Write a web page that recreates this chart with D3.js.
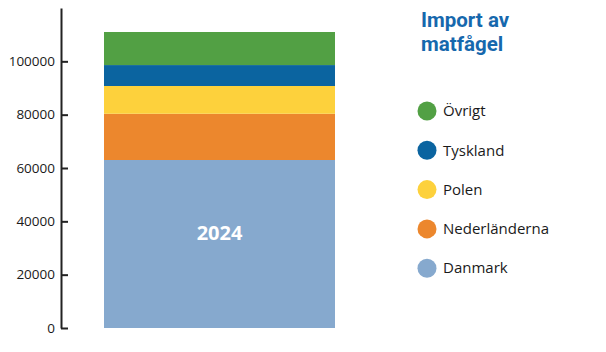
<!DOCTYPE html>
<html><head><meta charset="utf-8">
<script src="https://cdn.jsdelivr.net/npm/d3@7"></script>
<style>body{margin:0;background:#fff;}svg{display:block;font-family:"Open Sans",sans-serif;}</style>
</head><body>
<script>
const year = "2024";
const categories = ["Danmark", "Nederländerna", "Polen", "Tyskland", "Övrigt"];
const values = [63000, 17350, 10400, 7850, 12400];
const colors = ["#86a9ce", "#ec872d", "#fdd13c", "#0b64a0", "#52a044"];
const tickValues = [0, 20000, 40000, 60000, 80000, 100000];
const title = ["Import av", "matfågel"];

const W = 606, H = 352;
const svg = d3.select("body").append("svg").attr("width", W).attr("height", H);

const y = d3.scaleLinear().domain([0, 120000]).range([328, 8]);
const x = d3.scaleBand().domain([year]).range([104, 335]).padding(0);

const stackData = [Object.fromEntries([["year", year], ...categories.map((c, i) => [c, values[i]])])];
const series = d3.stack().keys(categories)(stackData);

svg.append("g").selectAll("rect").data(series).join("rect")
  .attr("x", x(year)).attr("width", x.bandwidth())
  .attr("y", d => y(d[0][1])).attr("height", d => y(d[0][0]) - y(d[0][1]))
  .attr("fill", (d, i) => colors[i]);

// axis
const axis = d3.axisLeft(y).tickValues(tickValues).tickFormat(d3.format("d")).tickSizeInner(-7).tickSizeOuter(0).tickPadding(6);
const ag = svg.append("g").attr("transform", "translate(61,0)").call(axis);
ag.select(".domain").attr("stroke", "#222").attr("stroke-width", 2);
ag.selectAll(".tick line").attr("stroke", "#222").attr("stroke-width", 2);
ag.selectAll(".tick text").attr("x", -6).attr("fill", "#1a1a1a").style("font-size", "13.5px").style("font-family", "'Open Sans',sans-serif");

// year label inside bar
const dan = series[0][0];
svg.append("text").attr("x", x(year) + x.bandwidth() / 2).attr("y", (y(dan[0]) + y(dan[1])) / 2 - 12)
  .attr("text-anchor", "middle").attr("dominant-baseline", "central")
  .attr("fill", "#fff").style("font-size", "20px").style("font-weight", "bold").text(year);

// title (two lines)
svg.append("g").selectAll("text").data(title).join("text")
  .attr("x", 421).attr("y", (d, i) => 27 + i * 24)
  .attr("fill", "#1668ad").style("font-family", "Roboto,sans-serif").style("font-size", "20.5px").style("font-weight", "bold").text(d => d);

// legend (reverse order)
const legendItems = categories.map((c, i) => ({ c, color: colors[i] })).reverse();
const lg = svg.append("g").selectAll("g").data(legendItems).join("g")
  .attr("transform", (d, i) => `translate(427,${111 + i * 39.3})`);
lg.append("circle").attr("r", 9.5).attr("fill", d => d.color);
lg.append("text").attr("x", 16).attr("dy", "0.35em").attr("fill", "#1a1a1a").style("font-size", "15px").text(d => d.c);
</script>
</body></html>
